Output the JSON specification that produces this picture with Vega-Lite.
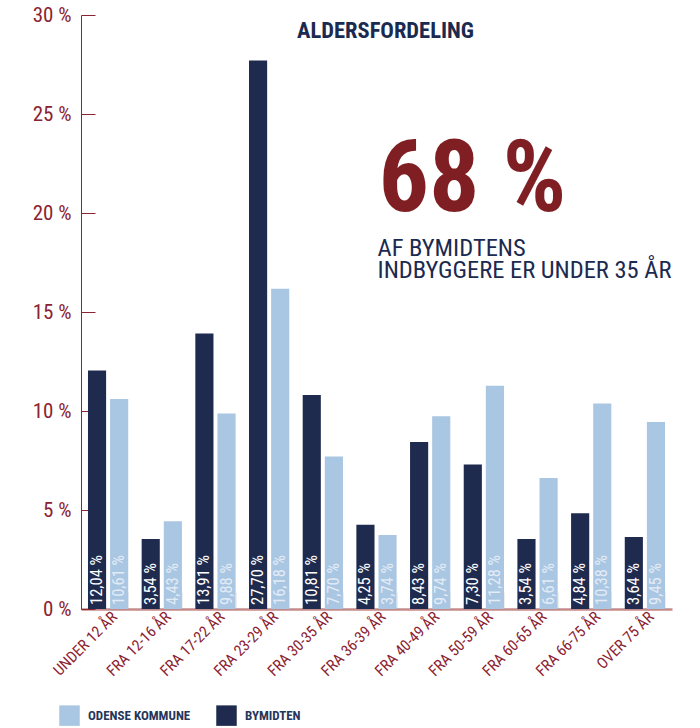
{
  "$schema": "https://vega.github.io/schema/vega-lite/v6.json",
  "width": 591,
  "height": 594,
  "autosize": {"type": "none"},
  "padding": {"left": 81, "top": 15, "right": 28, "bottom": 119},
  "background": "white",
  "config": {
    "font": "Roboto Condensed, Noto Sans Condensed, Liberation Sans Narrow, DejaVu Sans Condensed, sans-serif",
    "view": {"stroke": null}
  },
  "datasets": {
    "bars": [
      {"age": "UNDER 12 ÅR", "group": "BYMIDTEN", "value": 12.04},
      {"age": "UNDER 12 ÅR", "group": "ODENSE KOMMUNE", "value": 10.61},
      {"age": "FRA 12-16 ÅR", "group": "BYMIDTEN", "value": 3.54},
      {"age": "FRA 12-16 ÅR", "group": "ODENSE KOMMUNE", "value": 4.43},
      {"age": "FRA 17-22 ÅR", "group": "BYMIDTEN", "value": 13.91},
      {"age": "FRA 17-22 ÅR", "group": "ODENSE KOMMUNE", "value": 9.88},
      {"age": "FRA 23-29 ÅR", "group": "BYMIDTEN", "value": 27.70},
      {"age": "FRA 23-29 ÅR", "group": "ODENSE KOMMUNE", "value": 16.18},
      {"age": "FRA 30-35 ÅR", "group": "BYMIDTEN", "value": 10.81},
      {"age": "FRA 30-35 ÅR", "group": "ODENSE KOMMUNE", "value": 7.70},
      {"age": "FRA 36-39 ÅR", "group": "BYMIDTEN", "value": 4.25},
      {"age": "FRA 36-39 ÅR", "group": "ODENSE KOMMUNE", "value": 3.74},
      {"age": "FRA 40-49 ÅR", "group": "BYMIDTEN", "value": 8.43},
      {"age": "FRA 40-49 ÅR", "group": "ODENSE KOMMUNE", "value": 9.74},
      {"age": "FRA 50-59 ÅR", "group": "BYMIDTEN", "value": 7.30},
      {"age": "FRA 50-59 ÅR", "group": "ODENSE KOMMUNE", "value": 11.28},
      {"age": "FRA 60-65 ÅR", "group": "BYMIDTEN", "value": 3.54},
      {"age": "FRA 60-65 ÅR", "group": "ODENSE KOMMUNE", "value": 6.61},
      {"age": "FRA 66-75 ÅR", "group": "BYMIDTEN", "value": 4.84},
      {"age": "FRA 66-75 ÅR", "group": "ODENSE KOMMUNE", "value": 10.38},
      {"age": "OVER 75 ÅR", "group": "BYMIDTEN", "value": 3.64},
      {"age": "OVER 75 ÅR", "group": "ODENSE KOMMUNE", "value": 9.45}
    ],
    "notes": [
      {"age": "FRA 36-39 ÅR", "y": 29.2, "text": "ALDERSFORDELING", "kind": "title"},
      {"age": "FRA 36-39 ÅR", "y": 21.6, "text": "68 %", "kind": "big"},
      {"age": "FRA 36-39 ÅR", "y": 18.2, "text": "AF BYMIDTENS\nINDBYGGERE ER UNDER 35 ÅR", "kind": "sub"}
    ]
  },
  "layer": [
    {
      "data": {"name": "bars"},
      "mark": {"type": "bar"},
      "encoding": {
        "x": {
          "field": "age", "type": "nominal", "sort": null,
          "scale": {"paddingInner": 0.25, "paddingOuter": 0.13},
          "axis": {
            "title": null, "labelAngle": -45, "labelAlign": "right", "labelBaseline": "middle",
            "labelFontSize": 15.5, "labelColor": "#8b2332", "labelPadding": 22, "labelOffset": 6,
            "ticks": true, "tickBand": "extent", "tickSize": -17, "tickColor": "#eeeeee", "tickWidth": 1,
            "domainColor": "#c48b8b", "domainWidth": 2.5
          }
        },
        "xOffset": {
          "field": "group", "type": "nominal",
          "scale": {"domain": ["BYMIDTEN", "ODENSE KOMMUNE"], "paddingInner": 0.18, "paddingOuter": 0}
        },
        "y": {
          "field": "value", "type": "quantitative",
          "scale": {"domain": [0, 30], "nice": false},
          "axis": {
            "title": null, "values": [0, 5, 10, 15, 20, 25, 30], "grid": false,
            "labelExpr": "datum.value + ' %'", "labelFontSize": 21, "labelColor": "#8b2332",
            "tickSize": -14, "tickColor": "#8b2332", "domainColor": "#8b2332", "labelPadding": 24
          }
        },
        "color": {
          "field": "group", "type": "nominal",
          "scale": {"domain": ["ODENSE KOMMUNE", "BYMIDTEN"], "range": ["#a9c6e2", "#1f2b4e"]},
          "legend": {
            "title": null, "orient": "none", "direction": "horizontal",
            "legendX": -22, "legendY": 690,
            "symbolType": "square", "symbolSize": 420, "symbolStrokeWidth": 0,
            "labelFontSize": 13, "labelFontWeight": "bold", "labelColor": "#26355a",
            "labelOffset": 8, "columnPadding": 25
          }
        }
      }
    },
    {
      "data": {"name": "bars"},
      "transform": [
        {"calculate": "replace(format(datum.value, '.2f'), '.', ',') + ' %'", "as": "label"}
      ],
      "mark": {"type": "text", "angle": 270, "align": "left", "baseline": "middle", "dx": 4, "fontSize": 16.5},
      "encoding": {
        "x": {"field": "age", "type": "nominal", "sort": null},
        "xOffset": {"field": "group", "type": "nominal"},
        "y": {"datum": 0},
        "text": {"field": "label"},
        "color": {
          "condition": {"test": "datum.group == 'BYMIDTEN'", "value": "#ffffff"},
          "value": "#e3ecf6"
        }
      }
    },
    {
      "data": {"name": "notes"},
      "transform": [{"filter": "datum.kind == 'title'"}],
      "mark": {"type": "text", "align": "center", "baseline": "middle", "fontSize": 22.5, "fontWeight": "bold", "color": "#1b2a50", "dx": 9},
      "encoding": {
        "x": {"field": "age", "type": "nominal", "sort": null},
        "y": {"field": "y", "type": "quantitative"},
        "text": {"field": "text"}
      }
    },
    {
      "data": {"name": "notes"},
      "transform": [{"filter": "datum.kind == 'big'"}],
      "mark": {"type": "text", "align": "left", "baseline": "middle", "fontSize": 100, "fontWeight": "bold", "color": "#7f1f24", "dx": 2},
      "encoding": {
        "x": {"field": "age", "type": "nominal", "sort": null},
        "y": {"field": "y", "type": "quantitative"},
        "text": {"field": "text"}
      }
    },
    {
      "data": {"name": "notes"},
      "transform": [{"filter": "datum.kind == 'sub'"}],
      "mark": {"type": "text", "align": "left", "baseline": "middle", "fontSize": 24.5, "lineBreak": "\n", "lineHeight": 22, "color": "#1b2a50", "dx": 1},
      "encoding": {
        "x": {"field": "age", "type": "nominal", "sort": null},
        "y": {"field": "y", "type": "quantitative"},
        "text": {"field": "text"}
      }
    }
  ]
}
